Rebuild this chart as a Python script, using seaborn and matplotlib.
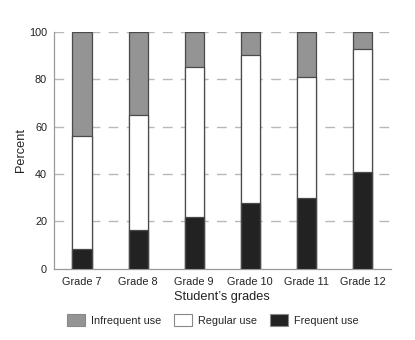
import matplotlib
matplotlib.use("Agg")
import matplotlib.pyplot as plt
from matplotlib.patches import Patch
import seaborn as sns
import pandas as pd
import numpy as np

grades = ["Grade 7", "Grade 8", "Grade 9", "Grade 10", "Grade 11", "Grade 12"]
frequent = [8.2, 16.2, 22.0, 27.9, 29.7, 40.7]
regular = [48.0, 48.7, 63.3, 62.2, 51.4, 52.3]
infrequent = [43.8, 35.1, 14.7, 9.9, 18.9, 7.0]

series_labels = ["Infrequent use", "Regular use", "Frequent use"]
colors = {"Infrequent use": "#949494", "Regular use": "#ffffff", "Frequent use": "#222222"}

sns.set_theme(style="white")
plt.rcParams['font.family'] = ['Liberation Sans', 'DejaVu Sans']

df = pd.DataFrame({"grade": grades, "frequent": frequent,
                   "regular": regular, "infrequent": infrequent})
df["cum_reg"] = df["frequent"] + df["regular"]
df["cum_all"] = df["cum_reg"] + df["infrequent"]

fig = plt.figure(figsize=(4.15, 3.40), dpi=100)
ax = fig.add_axes([0.130, 0.210, 0.811, 0.696])

edge = "#4a4a4a"
w = 0.34
for col, lab in [("cum_all", "Infrequent use"), ("cum_reg", "Regular use"), ("frequent", "Frequent use")]:
    sns.barplot(data=df, x="grade", y=col, color=colors[lab], saturation=1,
                width=w, edgecolor=edge, linewidth=0.9, ax=ax, zorder=3)

ax.set_ylim(0, 100)
ax.set_xlim(-0.5, 5.5)
ax.set_yticks([0, 20, 40, 60, 80, 100])
for yv in [20, 40, 60, 80, 100]:
    ax.axhline(yv, color="#b8b8b8", lw=1.0, ls=(0, (7, 6)), zorder=1)

ax.set_xticks(np.arange(-0.5, 6.0, 1.0), minor=True)
ax.tick_params(axis="x", which="major", length=0, labelsize=7.8, pad=6, colors="#222222")
ax.tick_params(axis="x", which="minor", length=3, direction="in", color="#888888", width=0.8)
ax.tick_params(axis="y", which="major", length=0, labelsize=7.8, pad=5, colors="#222222")

for s in ["top", "right"]:
    ax.spines[s].set_visible(False)
for s in ["left", "bottom"]:
    ax.spines[s].set_color("#999999")
    ax.spines[s].set_linewidth(0.9)

ax.set_xlabel("Student\u2019s grades", fontsize=9.2, labelpad=3, color="#222222")
ax.set_ylabel("Percent", fontsize=9.2, labelpad=1, color="#222222")

handles = [Patch(facecolor=colors[l], edgecolor="#888888", linewidth=0.8, label=l) for l in series_labels]
fig.legend(handles=handles, loc="center", bbox_to_anchor=(213 / 415, 1 - 320 / 340),
           ncol=3, frameon=False, fontsize=7.8, handlelength=1.65, handleheight=1.45,
           handletextpad=0.55, columnspacing=1.2)

fig.savefig("out.png", dpi=100)
